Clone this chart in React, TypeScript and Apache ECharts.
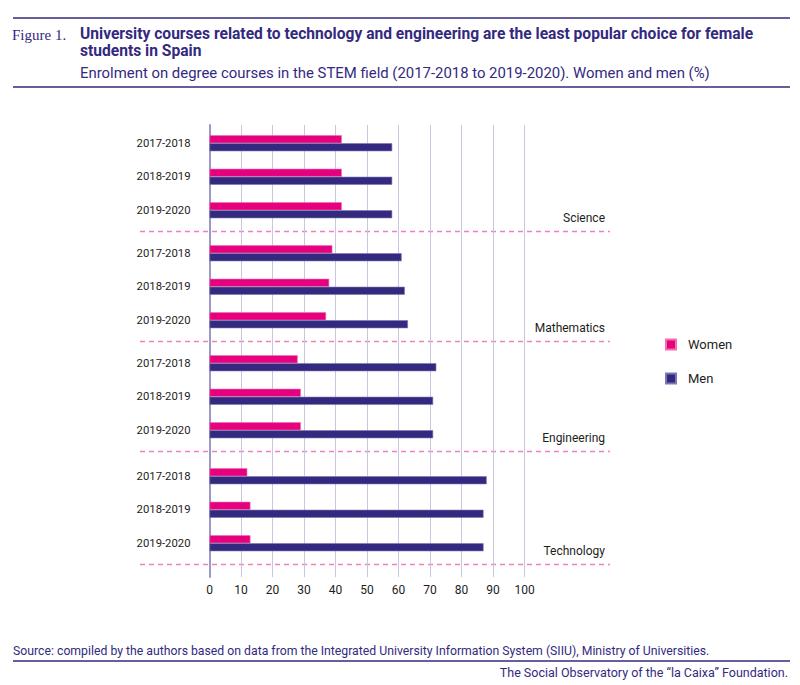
import React, { useEffect, useRef } from "react";
import * as echarts from "echarts";

const years = ["2017-2018", "2018-2019", "2019-2020"];
const fields = ["Science", "Mathematics", "Engineering", "Technology"];
const scienceWomen = [42, 42, 42];
const scienceMen = [58, 58, 58];
const mathWomen = [39, 38, 37];
const mathMen = [61, 62, 63];
const engWomen = [28, 29, 29];
const engMen = [72, 71, 71];
const techWomen = [12, 13, 13];
const techMen = [88, 87, 87];
const xTicks = [0, 10, 20, 30, 40, 50, 60, 70, 80, 90, 100];

const womenByField = [scienceWomen, mathWomen, engWomen, techWomen];
const menByField = [scienceMen, mathMen, engMen, techMen];

const NAVY = "#332a7f";
const PINK = "#e6007e";
const TXT = "#1d1d1b";
const FONT = "Roboto, 'Noto Sans', sans-serif";

export default function App() {
  const ref = useRef<HTMLDivElement>(null);
  useEffect(() => {
    document.body.style.margin = "0";
    const chart = echarts.init(ref.current!, null, { renderer: "svg" });
    const plotLeft = 209.5;
    const plotWidth = 315;
    const groupTops = [126.5, 236.5, 346.5, 459.5];
    const groupH = 100.5;

    const grids: any[] = [{ left: plotLeft, top: 125, width: plotWidth, height: 452 }];
    const xAxes: any[] = [
      {
        type: "value",
        gridIndex: 0,
        min: 0,
        max: 100,
        interval: 10,
        axisLine: { show: false },
        axisTick: { show: false },
        splitLine: { show: true, lineStyle: { color: "#cbc6df", width: 1 } },
        axisLabel: {
          margin: 7,
          fontSize: 12,
          color: TXT,
          fontFamily: FONT,
          formatter: (v: number) => (xTicks.includes(v) ? String(v) : ""),
        },
      },
    ];
    const yAxes: any[] = [
      {
        type: "value",
        gridIndex: 0,
        min: 0,
        max: 1,
        axisLine: { show: true, lineStyle: { color: "#9e98c8", width: 2 } },
        axisTick: { show: false },
        axisLabel: { show: false },
        splitLine: { show: false },
      },
    ];
    const series: any[] = [];
    const graphics: any[] = [];

    fields.forEach((f, i) => {
      const gi = i + 1;
      grids.push({ left: plotLeft, top: groupTops[i], width: plotWidth, height: groupH });
      xAxes.push({ type: "value", gridIndex: gi, min: 0, max: 100, show: false });
      yAxes.push({
        type: "category",
        gridIndex: gi,
        data: years,
        inverse: true,
        axisLine: { show: false },
        axisTick: { show: false },
        splitLine: { show: false },
        axisLabel: { margin: 19, fontSize: 11.3, color: TXT, fontFamily: FONT },
      });
      series.push({
        type: "bar",
        name: "Women",
        xAxisIndex: gi,
        yAxisIndex: gi,
        data: womenByField[i],
        barWidth: 8,
        barGap: "0%",
        itemStyle: { color: PINK, borderColor: "#ef6fb2", borderWidth: 0.6 },
      });
      series.push({
        type: "bar",
        name: "Men",
        xAxisIndex: gi,
        yAxisIndex: gi,
        data: menByField[i],
        barWidth: 8,
        barGap: "0%",
        itemStyle: { color: NAVY, borderColor: "#7d76b6", borderWidth: 0.6 },
      });
      const sepY = groupTops[i] + groupH + 4.5;
      graphics.push({
        type: "line",
        shape: { x1: 140, y1: sepY, x2: 610, y2: sepY },
        style: { stroke: "#ee80c0", lineWidth: 1.5, lineDash: [5, 4] },
      });
      graphics.push({
        type: "text",
        x: 605,
        y: sepY - 14,
        style: {
          text: f,
          align: "right",
          verticalAlign: "middle",
          fontSize: 12,
          fontFamily: FONT,
          fill: TXT,
        },
      });
    });

    // header and footer
    graphics.push(
      { type: "line", shape: { x1: 13, y1: 18, x2: 790, y2: 18 }, style: { stroke: NAVY, lineWidth: 1.6 } },
      { type: "line", shape: { x1: 13, y1: 87, x2: 790, y2: 87 }, style: { stroke: NAVY, lineWidth: 1.6 } },
      {
        type: "text",
        x: 12,
        y: 35,
        style: { text: "Figure 1.", fontSize: 15, fontFamily: "'Liberation Serif', serif", fill: NAVY, verticalAlign: "middle" },
      },
      {
        type: "text",
        x: 80,
        y: 34,
        style: {
          text: "University courses related to technology and engineering are the least popular choice for female",
          fontSize: 15.6,
          fontWeight: "bold",
          fontFamily: FONT,
          fill: NAVY,
          verticalAlign: "middle",
        },
      },
      {
        type: "text",
        x: 80,
        y: 51,
        style: { text: "students in Spain", fontSize: 15.6, fontWeight: "bold", fontFamily: FONT, fill: NAVY, verticalAlign: "middle" },
      },
      {
        type: "text",
        x: 80,
        y: 73,
        style: {
          text: "Enrolment on degree courses in the STEM field (2017-2018 to 2019-2020). Women and men (%)",
          fontSize: 14.9,
          fontFamily: FONT,
          fill: NAVY,
          verticalAlign: "middle",
        },
      },
      {
        type: "text",
        x: 13,
        y: 651,
        style: {
          text: "Source: compiled by the authors based on data from the Integrated University Information System (SIIU), Ministry of Universities.",
          fontSize: 12.25,
          fontFamily: FONT,
          fill: NAVY,
          verticalAlign: "middle",
        },
      },
      { type: "line", shape: { x1: 13, y1: 661, x2: 790, y2: 661 }, style: { stroke: NAVY, lineWidth: 1.6 } },
      {
        type: "text",
        x: 788,
        y: 672,
        style: {
          text: "The Social Observatory of the \u201cla Caixa\u201d Foundation.",
          fontSize: 12.5,
          fontFamily: FONT,
          fill: NAVY,
          align: "right",
          verticalAlign: "middle",
        },
      }
    );

    chart.setOption({
      animation: false,
      grid: grids,
      xAxis: xAxes,
      yAxis: yAxes,
      series,
      legend: {
        data: ["Women", "Men"],
        orient: "vertical",
        left: 665,
        top: 338,
        padding: 0,
        itemWidth: 10,
        itemHeight: 10,
        itemGap: 21,
        icon: "rect",
        selectedMode: false,
        textStyle: { fontSize: 13, color: TXT, fontFamily: FONT, padding: [0, 0, 0, 7] },
      },
      graphic: graphics,
    });
    return () => chart.dispose();
  }, []);
  return <div ref={ref} style={{ width: 800, height: 685 }} />;
}
